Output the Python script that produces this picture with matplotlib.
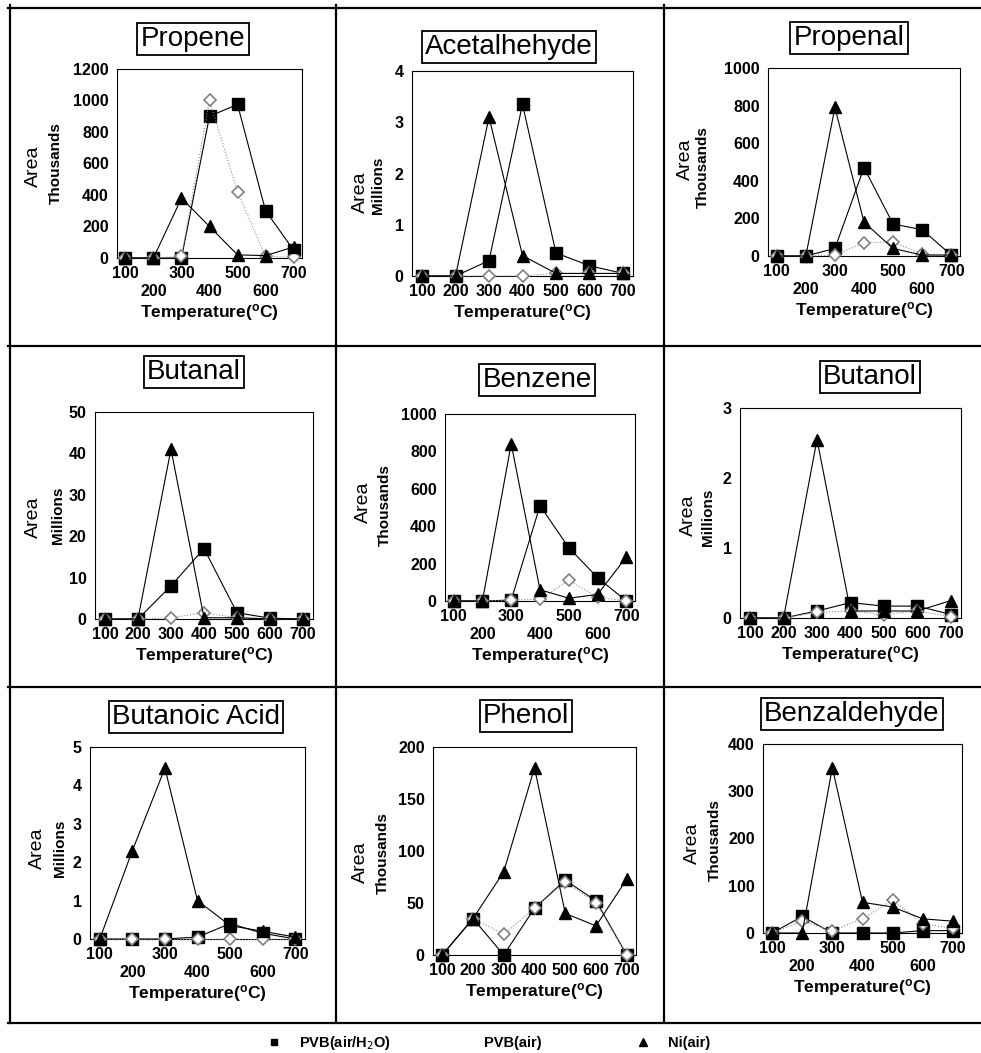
import matplotlib
matplotlib.use('Agg')
import matplotlib.pyplot as plt
from matplotlib.lines import Line2D

plt.rcParams['font.family'] = ['Liberation Sans', 'DejaVu Sans']

# temperatures (category axis)
temps = [100, 200, 300, 400, 500, 600, 700]

# values, per compound: PVB(air/H2O), PVB(air), Ni(air)
propene_h2o = [0, 0, 0, 900, 975, 300, 50]
propene_air = [0, 0, 10, 1000, 420, 10, 5]
propene_ni = [0, 0, 380, 200, 20, 15, 70]

acetal_h2o = [0, 0, 0.3, 3.35, 0.45, 0.2, 0.05]
acetal_air = [0, 0, 0, 0, 0.05, 0.05, 0.05]
acetal_ni = [0, 0, 3.1, 0.4, 0.05, 0.05, 0.05]

propenal_h2o = [0, 0, 40, 470, 170, 140, 5]
propenal_air = [0, 0, 5, 70, 75, 10, 5]
propenal_ni = [0, 0, 790, 180, 40, 5, 5]

butanal_h2o = [0, 0, 8, 17, 1.5, 0.2, 0]
butanal_air = [0, 0, 0.3, 1.5, 0.3, 0, 0]
butanal_ni = [0, 0, 41, 0.3, 0.3, 0, 0]

benzene_h2o = [0, 0, 5, 510, 285, 125, 0]
benzene_air = [0, 0, 5, 10, 110, 20, 0]
benzene_ni = [0, 0, 840, 60, 15, 35, 235]

butanol_h2o = [0, 0, 0.1, 0.22, 0.17, 0.17, 0.05]
butanol_air = [0, 0, 0.08, 0.1, 0.05, 0.1, 0.02]
butanol_ni = [0, 0, 2.55, 0.1, 0.1, 0.1, 0.25]

butacid_h2o = [0, 0, 0, 0.05, 0.4, 0.15, 0]
butacid_air = [0, 0, 0, 0, 0, 0, 0]
butacid_ni = [0, 2.3, 4.45, 1.0, 0.35, 0.2, 0.05]

phenol_h2o = [0, 35, 0, 45, 72, 52, 0]
phenol_air = [0, 35, 20, 45, 70, 50, 0]
phenol_ni = [0, 35, 80, 180, 40, 28, 73]

benzald_h2o = [0, 35, 0, 0, 0, 5, 5]
benzald_air = [0, 25, 5, 30, 70, 20, 10]
benzald_ni = [0, 0, 350, 65, 55, 30, 25]

W, H = 981, 1053

# layout: title, unit, y max, y step, two-row x labels, axes px (l, t, r, b),
# title centre px, "Area" px, unit px
panels = [
    ('Propene', 'Thousands', 1200, 200, True, (117, 69, 302, 258), (193, 39), (33, 166), (56, 163),
     propene_h2o, propene_air, propene_ni),
    ('Acetalhehyde', 'Millions', 4, 1, False, (412, 71, 633, 276), (509, 47), (360, 192), (378, 185),
     acetal_h2o, acetal_air, acetal_ni),
    ('Propenal', 'Thousands', 1000, 200, True, (768, 68, 960, 256), (849, 38), (685, 159), (703, 167),
     propenal_h2o, propenal_air, propenal_ni),
    ('Butanal', 'Millions', 50, 10, False, (95, 412, 313, 619), (194, 372), (33, 517), (58, 515),
     butanal_h2o, butanal_air, butanal_ni),
    ('Benzene', 'Thousands', 1000, 200, True, (445, 414, 635, 601), (537, 380), (363, 502), (385, 505),
     benzene_h2o, benzene_air, benzene_ni),
    ('Butanol', 'Millions', 3, 1, False, (740, 408, 961, 618), (870, 377), (688, 515), (708, 517),
     butanol_h2o, butanol_air, butanol_ni),
    ('Butanoic Acid', 'Millions', 5, 1, True, (90, 747, 305, 939), (196, 717), (37, 848), (60, 848),
     butacid_h2o, butacid_air, butacid_ni),
    ('Phenol', 'Thousands', 200, 50, False, (433, 747, 636, 955), (526, 716), (360, 862), (383, 853),
     phenol_h2o, phenol_air, phenol_ni),
    ('Benzaldehyde', 'Thousands', 400, 100, True, (763, 744, 962, 933), (852, 714), (692, 843), (715, 840),
     benzald_h2o, benzald_air, benzald_ni),
]

fig = plt.figure(figsize=(W / 100, H / 100), dpi=100)


def fx(x):
    return x / W


def fy(y):
    return 1 - y / H


for (title, unit, ymax, ystep, tworow, box, tpos, apos, upos, h2o, air, ni) in panels:
    l, t, r, b = box
    ax = fig.add_axes([fx(l), fy(b), (r - l) / W, (b - t) / H])
    ax.plot(temps, h2o, color='black', lw=0.8, marker='s', ms=9, mfc='black', mec='black',
            clip_on=False, zorder=3)
    ax.plot(temps, air, color='0.55', lw=0.8, ls=':', marker='D', ms=6, mfc='white', mec='0.5',
            mew=1.2, clip_on=False, zorder=4)
    ax.plot(temps, ni, color='black', lw=0.8, marker='^', ms=9, mfc='black', mec='black',
            clip_on=False, zorder=5)
    ax.set_xlim(70, 730)
    ax.set_ylim(0, ymax)
    yt = [i * ystep for i in range(int(round(ymax / ystep)) + 1)]
    ax.set_yticks(yt)
    ax.set_yticklabels([str(v) for v in yt])
    ax.set_xticks(temps)
    if tworow:
        ax.set_xticklabels([str(v) if i % 2 == 0 else '\n' + str(v) for i, v in enumerate(temps)])
    else:
        ax.set_xticklabels([str(v) for v in temps])
    ax.tick_params(length=0, labelsize=11.5, pad=6)
    for lab in ax.get_xticklabels() + ax.get_yticklabels():
        lab.set_fontweight('bold')
    for sp in ax.spines.values():
        sp.set_linewidth(0.8)
    ax.set_xlabel('Temperature($\\mathregular{^o}$C)', fontsize=12.5, fontweight='bold', labelpad=2)
    fig.text(fx(tpos[0]), fy(tpos[1]), title, fontsize=20, ha='center', va='center',
             bbox=dict(boxstyle='square,pad=0.12', fc='white', ec='black', lw=1.3))
    fig.text(fx(apos[0]), fy(apos[1]), 'Area', fontsize=14, rotation=90, ha='center', va='center')
    fig.text(fx(upos[0]), fy(upos[1]), unit, fontsize=11, fontweight='bold', rotation=90,
             ha='center', va='center')

# frame lines of the composite
frame = [((8, 8), (981, 8)), ((8, 346), (981, 346)), ((8, 687), (981, 687)), ((8, 1023), (981, 1023)),
         ((10, 5), (10, 1023)), ((336, 5), (336, 1023)), ((664, 5), (664, 1023))]
for (x0, y0), (x1, y1) in frame:
    fig.add_artist(Line2D([fx(x0), fx(x1)], [fy(y0), fy(y1)], color='black', lw=1.6,
                          transform=fig.transFigure))

# legend, one entry per block
entries = [
    (Line2D([], [], ls='none', marker='s', ms=5, color='black'), 'PVB(air/H$_2$O)', 267),
    (Line2D([], [], ls='none', marker='D', ms=5, mfc='white', mec='white'), 'PVB(air)', 452),
    (Line2D([], [], ls='none', marker='^', ms=6, color='black'), 'Ni(air)', 636),
]
for h, lab, x in entries:
    fig.legend(handles=[h], labels=[lab], loc='center left', bbox_to_anchor=(fx(x), fy(1043)),
               frameon=False, handlelength=1, handletextpad=1.2, borderpad=0, borderaxespad=0,
               prop={'size': 10.5, 'weight': 'bold'})

fig.savefig('out.png', dpi=100)
